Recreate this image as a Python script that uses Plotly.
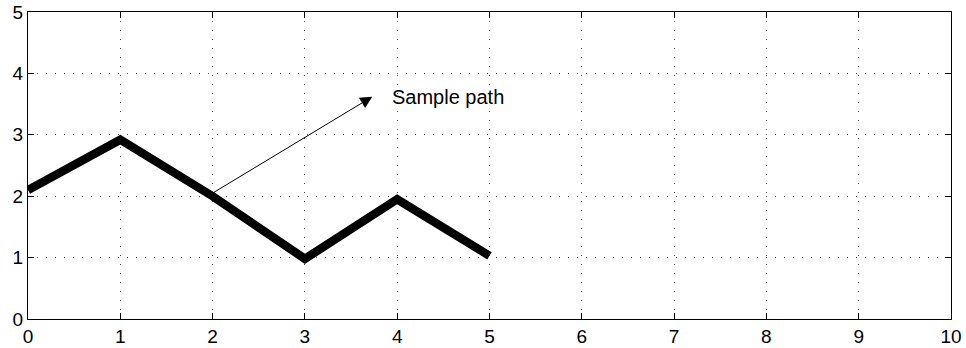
import plotly.graph_objects as go

x_vals = [0, 1, 2, 3, 4, 5]
y_vals = [2.1, 2.92, 2.0, 0.98, 1.95, 1.03]
x_ticks = [0, 1, 2, 3, 4, 5, 6, 7, 8, 9, 10]
y_ticks = [0, 1, 2, 3, 4, 5]
arrow_tail = (2.0, 2.05)
arrow_head = (3.73, 3.62)
label_text = "Sample path"
label_pos = (3.92, 3.62)

fig = go.Figure()
fig.add_trace(go.Scatter(x=x_vals, y=y_vals, mode="lines",
                         line=dict(color="black", width=8.5), showlegend=False))

fig.add_annotation(x=arrow_head[0], y=arrow_head[1], ax=arrow_tail[0], ay=arrow_tail[1],
                   xref="x", yref="y", axref="x", ayref="y", text="",
                   showarrow=True, arrowhead=2, arrowsize=2.4, arrowwidth=1, arrowcolor="black")
fig.add_annotation(x=label_pos[0], y=label_pos[1], xref="x", yref="y", text=label_text,
                   showarrow=False, xanchor="left", yanchor="middle",
                   font=dict(family="Liberation Sans, Arial", size=20, color="black"))

axis_common = dict(showline=True, linecolor="black", linewidth=1, mirror="ticks",
                   ticks="inside", ticklen=6, tickcolor="black", showgrid=True,
                   gridcolor="#555555", gridwidth=1, griddash="1px,8px", zeroline=False,
                   automargin=False,
                   tickfont=dict(family="Liberation Sans, Arial", size=19, color="black"))

fig.update_xaxes(range=[0, 10], tickvals=x_ticks, ticktext=[str(v) for v in x_ticks], **axis_common)
fig.update_yaxes(range=[0, 5], tickvals=y_ticks, ticktext=[str(v) for v in y_ticks], **axis_common)

fig.update_layout(width=966, height=348, margin=dict(l=28, r=15, t=12, b=29),
                  plot_bgcolor="white", paper_bgcolor="white")

fig.write_html("out.html", config={"displayModeBar": False},
               post_script="document.body.style.margin='0';document.body.style.overflow='hidden';")
